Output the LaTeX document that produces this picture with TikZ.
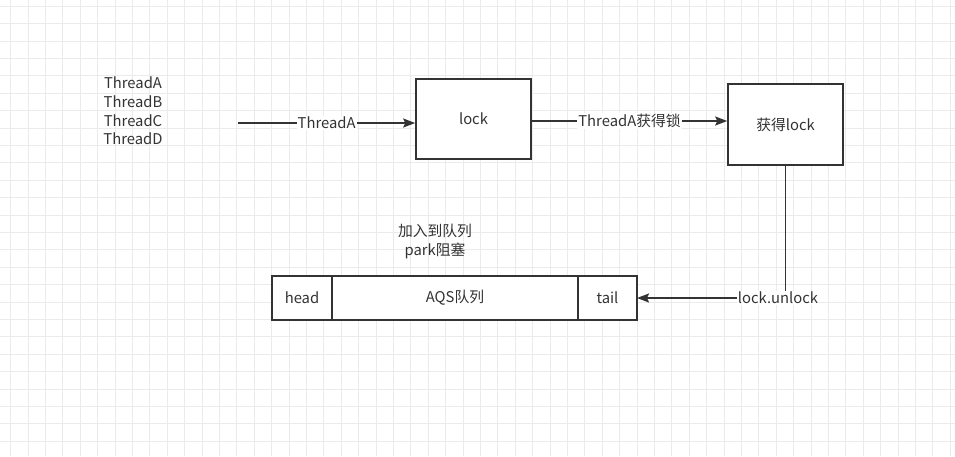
\documentclass[tikz,border=0pt]{standalone}
\usepackage{fontspec}
\setmainfont{Noto Sans CJK SC}
\usetikzlibrary{arrows.meta}
\definecolor{gridc}{HTML}{EBEBEB}
\definecolor{ink}{HTML}{333333}
\tikzset{
  box/.style={draw=ink, line width=1.6pt, fill=white, minimum width=115pt, minimum height=80pt, inner sep=0pt, text=ink},
  cell/.style={draw=ink, line width=1.6pt, fill=white, minimum height=44pt, inner sep=0pt, outer sep=0pt, text=ink},
  conn/.style={draw=ink, line width=1.6pt, -{Stealth[length=12pt,width=9pt,inset=2pt]}},
  plain/.style={draw=ink, line width=1.6pt},
  lbl/.style={fill=white, inner sep=1pt, text=ink},
  txt/.style={text=ink, inner sep=0pt, align=center},
}
\begin{document}
\begin{tikzpicture}[x=1pt,y=-1pt, font=\fontsize{14.8pt}{18.6pt}\selectfont]
\useasboundingbox (0,0) rectangle (955,456);
\fill[white] (0,0) rectangle (955,456);
\foreach \i in {0,...,55} {\draw[gridc, line width=0.6pt] ({10.5+17.4*\i},0) -- ({10.5+17.4*\i},456);}
\foreach \j in {0,...,26} {\draw[gridc, line width=0.6pt] (0,{6+17.4*\j}) -- (955,{6+17.4*\j});}

\node[txt] (threads) at (133,111) {ThreadA\\ThreadB\\ThreadC\\ThreadD};
\coordinate (start) at (238,123);
\node[box] (lock) at (473.5,119) {lock};
\node[box, minimum height=81pt] (got) at (785.5,124.5) {获得lock};

\draw[conn] (start) -- (lock.west |- start) node[lbl, midway] (l1) {ThreadA};
\draw[conn] (lock.east |- 0,121) -- (got.west |- 0,121) node[lbl, midway] (l2) {ThreadA获得锁};

\node[cell, minimum width=60pt] (head) at (302,298) {head};
\node[cell, minimum width=246pt, anchor=west] (aqs) at (head.east) {AQS队列};
\node[cell, minimum width=59pt, anchor=west] (tail) at (aqs.east) {tail};

\node[lbl] (unlock) at (778,298) {lock.unlock};
\draw[plain] (got.south) -- (got.south |- unlock.north);
\draw[conn] (unlock.west) -- (tail.east);

\node[txt] (park) at (435,241.5) {加入到队列\\park阻塞};
\end{tikzpicture}
\end{document}
